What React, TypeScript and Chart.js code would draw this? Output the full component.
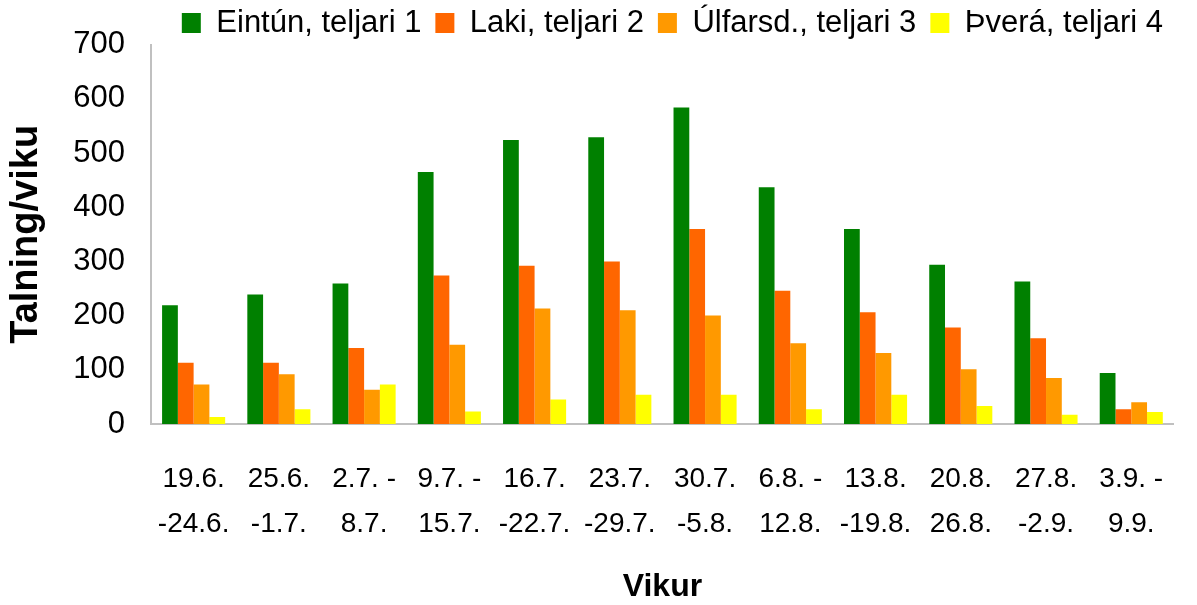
import React, { useEffect, useRef } from "react";
import { Chart, registerables } from "chart.js";

Chart.register(...registerables);

const categories: string[][] = [
  ["19.6.", "-24.6."],
  ["25.6.", "-1.7."],
  ["2.7. -", "8.7."],
  ["9.7. -", "15.7."],
  ["16.7.", "-22.7."],
  ["23.7.", "-29.7."],
  ["30.7.", "-5.8."],
  ["6.8. -", "12.8."],
  ["13.8.", "-19.8."],
  ["20.8.", "26.8."],
  ["27.8.", "-2.9."],
  ["3.9. -", "9.9."],
];

const seriesNames = ["Eintún, teljari 1", "Laki, teljari 2", "Úlfarsd., teljari 3", "Þverá, teljari 4"];

const eintun = [219, 239, 259, 465, 524, 529, 584, 437, 360, 294, 263, 94];
const laki = [113, 113, 140, 274, 292, 300, 360, 246, 206, 178, 158, 27];
const ulfarsd = [73, 92, 63, 146, 213, 210, 200, 149, 131, 101, 85, 40];
const thvera = [13, 27, 73, 23, 45, 54, 54, 27, 54, 33, 17, 22];

const colors = ["#008000", "#FF6600", "#FF9900", "#FFFF00"];

const yTicks = [0, 100, 200, 300, 400, 500, 600, 700];

const FONT = "'Liberation Sans', Arial, sans-serif";

export default function App() {
  const ref = useRef<HTMLCanvasElement>(null);

  useEffect(() => {
    const legendHeight = {
      id: "legendHeight",
      beforeInit(chart: any) {
        const lg = chart.legend;
        if (!lg) return;
        const orig = lg.fit;
        lg.fit = function () {
          orig.call(this);
          this.height = 51;
        };
      },
    };

    const values = [eintun, laki, ulfarsd, thvera];
    const chart = new Chart(ref.current!, {
      type: "bar",
      data: {
        labels: categories,
        datasets: values.map((v, i) => ({
          label: seriesNames[i],
          data: v,
          backgroundColor: colors[i],
          borderWidth: 0,
          categoryPercentage: 0.74,
          barPercentage: 1,
        })),
      },
      plugins: [legendHeight],
      options: {
        animation: false,
        responsive: true,
        maintainAspectRatio: false,
        layout: { padding: { left: 0, right: 20, top: -8, bottom: 0 } },
        plugins: {
          tooltip: { enabled: false },
          legend: {
            position: "top",
            align: "end",
            labels: {
              boxWidth: 19,
              boxHeight: 20,
              padding: 14,
              color: "#000",
              font: { family: FONT, size: 31 },
            },
          },
        },
        scales: {
          x: {
            grid: { display: false, drawTicks: false },
            border: { display: true, color: "#c0c0c0", width: 2 },
            ticks: {
              color: "#000",
              font: { family: FONT, size: 28, lineHeight: 1.6 },
              padding: 33,
              maxRotation: 0,
              minRotation: 0,
              autoSkip: false,
            },
            title: {
              display: true,
              text: "Vikur",
              color: "#000",
              font: { family: FONT, size: 32, weight: "bold", lineHeight: 1.1 },
              padding: 0,
            },
            afterFit: (s: any) => {
              s.height = 605 - 424;
            },
          },
          y: {
            min: 0,
            max: 700,
            grid: { display: false, drawTicks: false },
            border: { display: true, color: "#c0c0c0", width: 2 },
            afterBuildTicks: (s: any) => {
              s.ticks = yTicks.map((v) => ({ value: v }));
            },
            ticks: {
              color: "#000",
              font: { family: FONT, size: 31 },
              padding: 26,
            },
            title: {
              display: true,
              text: "Talning/viku",
              color: "#000",
              font: { family: FONT, size: 38, weight: "bold", lineHeight: 1.2 },
              padding: { top: 4, bottom: 0 },
            },
            afterFit: (s: any) => {
              s.width = 151;
            },
          },
        },
      },
    } as any);
    return () => chart.destroy();
  }, []);

  return (
    <div style={{ position: "fixed", left: 0, top: 0, width: 1197, height: 605, background: "#fff" }}>
      <canvas ref={ref} />
    </div>
  );
}
